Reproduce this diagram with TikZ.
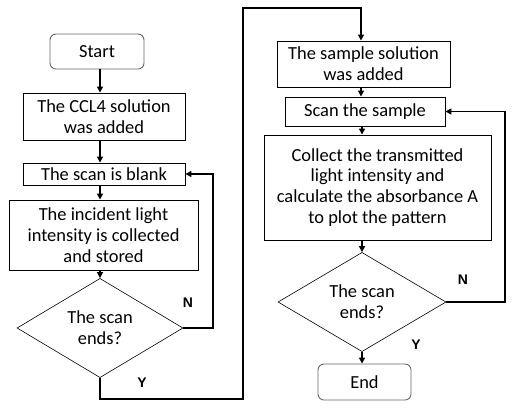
\documentclass[tikz,border=0pt]{standalone}
\usepackage{fontspec}
\setmainfont{Carlito}
\newfontfamily\lblfont{Liberation Sans}
\usetikzlibrary{shapes.geometric,arrows.meta}
\tikzset{
  box/.style={draw,line width=0.9pt,align=center,inner sep=0pt,
    font=\fontsize{18.5}{21}\selectfont},
  term/.style={box,rounded corners=6pt,draw=black!60},
  test/.style={draw,diamond,line width=0.6pt,align=center,inner sep=0pt,
    font=\fontsize{18.5}{21}\selectfont},
  lbl/.style={font=\lblfont\bfseries\fontsize{14}{16}\selectfont},
  flow/.style={line width=1.7pt,-{Triangle[length=6pt,width=6pt]}}
}
\begin{document}
\begin{tikzpicture}[x=1bp,y=-1bp]
      \useasboundingbox (0,0) rectangle (514,409);
      \draw
        (97,51.5) node[term,minimum width=94bp,minimum height=35bp] (start){Start}
        (104,116.5) node[box,minimum width=162bp,minimum height=47bp] (ccl){The CCL4 solution\\was added}
        (104,174) node[box,minimum width=162bp,minimum height=22bp] (blank){The scan is blank}
        (103.5,235) node[box,minimum width=189bp,minimum height=70bp] (incident){The incident light\\intensity is collected\\and stored}
        (100,328) node[test,minimum width=166bp,minimum height=92bp] (end1){The scan\\ends?}
        (363.5,64) node[box,minimum width=173bp,minimum height=46bp] (sample){The sample solution\\was added}
        (365,111.5) node[box,minimum width=160bp,minimum height=29bp] (scan){Scan the sample}
        (377.5,187.5) node[box,minimum width=227bp,minimum height=105bp] (collect){Collect the transmitted\\light intensity and\\calculate the absorbance A\\to plot the pattern}
        (362,302) node[test,minimum width=168bp,minimum height=92bp] (end2){The scan\\ends?}
        (364.5,382) node[term,minimum width=93bp,minimum height=36bp] (stop){End};
      \draw
        (213,0) coordinate (n1)
        (243,399) coordinate (y1)
        (243,8) coordinate (y2)
        (505,0) coordinate (n2);
      \begin{scope}[flow]
        \draw (start.south -| 100,0) -- (ccl.north -| 100,0);
        \draw (ccl.south -| 100,0) -- (blank.north -| 100,0);
        \draw (blank.south -| 100,0) -- (incident.north -| 100,0);
        \draw (incident.south -| end1.north) -- (end1.north);
        \draw (end1.east) -| (n1 |- blank.east) -- (blank.east);
        \draw (end1.south) |- (y1) -- (y2) -| (sample.north -| 361,0);
        \draw (sample.south -| 361,0) -- (scan.north -| 361,0);
        \draw (scan.south -| 362,0) -- (collect.north -| 362,0);
        \draw (collect.south -| end2.north) -- (end2.north);
        \draw (end2.east) -| (n2 |- scan.east) -- (scan.east);
        \draw (end2.south) -- (stop.north -| end2.south);
      \end{scope}
      \node[lbl] (n1lbl) at (188,303) {N};
      \node[lbl] (y1lbl) at (142,383) {Y};
      \node[lbl] (n2lbl) at (463,280) {N};
      \node[lbl] (y2lbl) at (416,345) {Y};
    \end{tikzpicture}
\end{document}
